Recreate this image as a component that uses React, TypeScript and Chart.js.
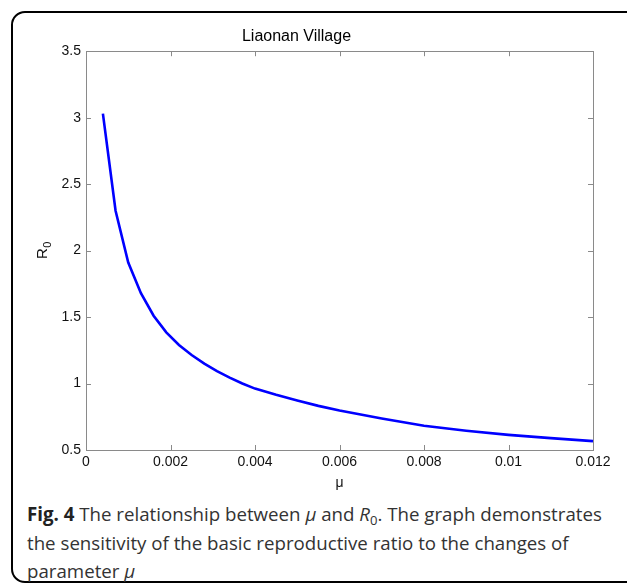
import React, { useEffect, useRef } from "react";
import { Chart, registerables } from "chart.js";

Chart.register(...registerables);

const muValues = [0.0004, 0.0007, 0.001, 0.0013, 0.0016, 0.0019, 0.0022, 0.0025, 0.0028, 0.0031, 0.0034, 0.0037, 0.004, 0.0045, 0.005, 0.0055, 0.006, 0.007, 0.008, 0.009, 0.01, 0.011, 0.012];
const r0Values = [3.03, 2.3, 1.91, 1.68, 1.51, 1.385, 1.29, 1.215, 1.15, 1.094, 1.045, 1.0, 0.962, 0.915, 0.872, 0.832, 0.797, 0.737, 0.682, 0.645, 0.614, 0.589, 0.567];
const xTickValues = [0, 0.002, 0.004, 0.006, 0.008, 0.01, 0.012];
const xTickLabels = ["0", "0.002", "0.004", "0.006", "0.008", "0.01", "0.012"];
const yTickValues = [0.5, 1, 1.5, 2, 2.5, 3, 3.5];
const yTickLabels = ["0.5", "1", "1.5", "2", "2.5", "3", "3.5"];
const chartTitle = "Liaonan Village";
const xAxisTitle = "μ";
const yAxisTitleMain = "R";
const yAxisTitleSub = "0";

const FONT = "'Liberation Sans', Arial, sans-serif";

const boxPlugin = {
  id: "matlabBox",
  afterDatasetsDraw(chart: any) {
    const { ctx, chartArea, scales } = chart;
    const { left, right, top, bottom } = chartArea;
    const len = 5;
    ctx.save();
    ctx.strokeStyle = "#8a8a8a";
    ctx.lineWidth = 1;
    ctx.beginPath();
    for (const v of xTickValues) {
      const px = Math.round(scales.x.getPixelForValue(v)) + 0.5;
      ctx.moveTo(px, bottom);
      ctx.lineTo(px, bottom - len);
      ctx.moveTo(px, top);
      ctx.lineTo(px, top + len);
    }
    for (const v of yTickValues) {
      const py = Math.round(scales.y.getPixelForValue(v)) + 0.5;
      ctx.moveTo(left, py);
      ctx.lineTo(left + len, py);
      ctx.moveTo(right, py);
      ctx.lineTo(right - len, py);
    }
    ctx.stroke();
    ctx.strokeRect(Math.round(left) + 0.5, Math.round(top) + 0.5, Math.round(right - left), Math.round(bottom - top));

    // y axis title: R with subscript 0, rotated
    const cy = (top + bottom) / 2;
    ctx.translate(47, cy);
    ctx.rotate(-Math.PI / 2);
    ctx.fillStyle = "#111";
    ctx.textBaseline = "alphabetic";
    ctx.font = "15px " + FONT;
    const wR = ctx.measureText(yAxisTitleMain).width;
    ctx.font = "11px " + FONT;
    const w0 = ctx.measureText(yAxisTitleSub).width;
    const startX = -(wR + w0) / 2;
    ctx.font = "15px " + FONT;
    ctx.fillText(yAxisTitleMain, startX, 0);
    ctx.font = "11px " + FONT;
    ctx.fillText(yAxisTitleSub, startX + wR + 0.5, 4);
    ctx.restore();
  },
};

export default function App() {
  const ref = useRef<HTMLCanvasElement | null>(null);
  useEffect(() => {
    if (!ref.current) return;
    const chart = new Chart(ref.current, {
      type: "line",
      data: {
        datasets: [
          {
            data: muValues.map((m, i) => ({ x: m, y: r0Values[i] })),
            borderColor: "#0000ff",
            borderWidth: 2.6,
            pointRadius: 0,
            tension: 0,
            fill: false,
          },
        ],
      },
      options: {
        animation: false,
        responsive: false,
        devicePixelRatio: 1,
        layout: { padding: { left: 0, right: 34, top: 0, bottom: 0 } },
        plugins: {
          legend: { display: false },
          tooltip: { enabled: false },
          title: {
            display: true,
            text: chartTitle,
            color: "#000",
            font: { family: FONT, size: 16, weight: "normal" },
            padding: { top: 27, bottom: 5 },
          },
        },
        scales: {
          x: {
            type: "linear",
            min: 0,
            max: 0.012,
            afterBuildTicks: (scale: any) => {
              scale.ticks = xTickValues.map((v) => ({ value: v }));
            },
            afterFit: (scale: any) => {
              scale.height = 50;
            },
            ticks: {
              color: "#111",
              padding: 4,
              maxRotation: 0,
              autoSkip: false,
              font: { family: FONT, size: 14 },
              callback: (v: any) => {
                const i = xTickValues.findIndex((t) => Math.abs(t - Number(v)) < 1e-9);
                return i >= 0 ? xTickLabels[i] : "";
              },
            },
            grid: { display: false, drawTicks: false },
            border: { display: false },
            title: {
              display: true,
              text: xAxisTitle,
              color: "#111",
              font: { family: FONT, size: 14 },
              padding: { top: 0, bottom: 8 },
            },
          },
          y: {
            type: "linear",
            min: 0.5,
            max: 3.5,
            afterBuildTicks: (scale: any) => {
              scale.ticks = yTickValues.map((v) => ({ value: v }));
            },
            afterFit: (scale: any) => {
              scale.width = 86;
            },
            ticks: {
              color: "#111",
              padding: 5,
              autoSkip: false,
              font: { family: FONT, size: 14 },
              callback: (v: any) => {
                const i = yTickValues.findIndex((t) => Math.abs(t - Number(v)) < 1e-9);
                return i >= 0 ? yTickLabels[i] : "";
              },
            },
            grid: { display: false, drawTicks: false },
            border: { display: false },
            title: { display: false },
          },
        },
      },
      plugins: [boxPlugin],
    } as any);
    return () => chart.destroy();
  }, []);

  const capStyle: React.CSSProperties = {
    position: "absolute",
    left: 27,
    top: 500,
    fontFamily: "'Open Sans', 'Noto Sans', sans-serif",
    fontSize: 18.7,
    lineHeight: "28.5px",
    color: "#333",
    whiteSpace: "nowrap",
  };

  return (
    <div style={{ position: "absolute", left: 0, top: 0, width: 627, height: 584, overflow: "hidden", background: "#fff" }}>
      <div
        style={{
          position: "absolute",
          left: 11,
          top: 11,
          width: 680,
          height: 572,
          boxSizing: "border-box",
          border: "2px solid #000",
          borderRadius: 14,
        }}
      />
      <canvas ref={ref} width={627} height={500} style={{ position: "absolute", left: 0, top: 0, width: 627, height: 500 }} />
      <div style={capStyle}>
        <span style={{ fontWeight: 700, color: "#222" }}>Fig. 4</span> The relationship between <i>μ</i> and <i>R</i>
        <span style={{ fontSize: "0.7em", position: "relative", top: "0.3em", lineHeight: 0 }}>0</span>. The graph demonstrates
        <br />
        the sensitivity of the basic reproductive ratio to the changes of
        <br />
        parameter <i>μ</i>
      </div>
    </div>
  );
}
